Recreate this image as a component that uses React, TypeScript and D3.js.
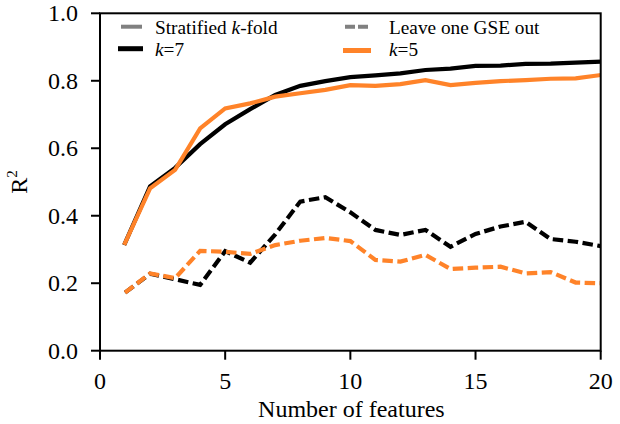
import React from "react";
import * as d3 from "d3";

const features = d3.range(1, 21);
const stratK7 = [0.319, 0.487, 0.542, 0.612, 0.671, 0.716, 0.758, 0.785, 0.799, 0.811, 0.816, 0.822, 0.832, 0.836, 0.844, 0.845, 0.850, 0.851, 0.854, 0.857];
const stratK5 = [0.319, 0.481, 0.536, 0.659, 0.718, 0.733, 0.753, 0.763, 0.773, 0.787, 0.785, 0.790, 0.802, 0.787, 0.794, 0.799, 0.802, 0.806, 0.807, 0.817];
const logoK7 = [0.172, 0.228, 0.212, 0.195, 0.295, 0.261, 0.345, 0.442, 0.455, 0.41, 0.358, 0.343, 0.358, 0.308, 0.346, 0.368, 0.382, 0.331, 0.323, 0.310];
const logoK5 = [0.172, 0.229, 0.215, 0.296, 0.293, 0.287, 0.313, 0.326, 0.334, 0.325, 0.269, 0.264, 0.284, 0.242, 0.246, 0.249, 0.229, 0.233, 0.202, 0.200];
const xTicks = [0, 5, 10, 15, 20];
const yTicks = [0, 0.2, 0.4, 0.6, 0.8, 1.0];

const W = 620;
const H = 424;
const L = 100, R = 600.7, T = 13.3, B = 350.7;
const FONT = "Liberation Serif, Tinos, Times New Roman, DejaVu Serif, serif";
const BLACK = "#000000";
const ORANGE = "#ff8329";
const LEG = 19.3;

export default function App() {
  const x = d3.scaleLinear().domain([0, 20]).range([L, R]);
  const y = d3.scaleLinear().domain([0, 1]).range([B, T]);
  const line = d3
    .line<number>()
    .x((_, i) => x(features[i]))
    .y((d) => y(d));

  const series = [
    { data: logoK7, color: BLACK, dash: "10.5,4.5" },
    { data: logoK5, color: ORANGE, dash: "10.5,4.5" },
    { data: stratK7, color: BLACK, dash: null },
    { data: stratK5, color: ORANGE, dash: null },
  ];

  const ts = { fontFamily: FONT } as React.CSSProperties;

  return (
    <svg
      width={W}
      height={H}
      style={{ position: "absolute", left: 0, top: 0, background: "#fff", fontFamily: FONT }}
    >
      <rect x={0} y={0} width={W} height={H} fill="#fff" />
      <defs>
        <clipPath id="plot">
          <rect x={L} y={T} width={R - L} height={B - T} />
        </clipPath>
      </defs>
      <g clipPath="url(#plot)">
        {series.map((s, i) => (
          <path
            key={i}
            d={line(s.data) || ""}
            fill="none"
            stroke={s.color}
            strokeWidth={4.2}
            strokeDasharray={s.dash || undefined}
            strokeLinejoin="miter"
            strokeLinecap={s.dash ? "butt" : "square"}
          />
        ))}
      </g>
      {/* spines */}
      <rect x={L} y={T} width={R - L} height={B - T} fill="none" stroke="#000" strokeWidth={2} />
      {/* y ticks */}
      {yTicks.map((t) => (
        <g key={"y" + t}>
          <line x1={L - 9} x2={L} y1={y(t)} y2={y(t)} stroke="#000" strokeWidth={2} />
          <text x={L - 22} y={y(t) + 8} textAnchor="end" fontSize={24} style={ts}>
            {t.toFixed(1)}
          </text>
        </g>
      ))}
      {/* x ticks */}
      {xTicks.map((t) => (
        <g key={"x" + t}>
          <line x1={x(t)} x2={x(t)} y1={B} y2={B + 9} stroke="#000" strokeWidth={2} />
          <text x={x(t)} y={389} textAnchor="middle" fontSize={24} style={ts}>
            {t}
          </text>
        </g>
      ))}
      {/* axis labels */}
      <text x={(L + R) / 2 + 1} y={417} textAnchor="middle" fontSize={24} style={ts}>
        Number of features
      </text>
      <text transform={`translate(27, ${(T + B) / 2}) rotate(-90)`} textAnchor="middle" fontSize={24} style={ts}>
        R<tspan fontSize={15} dy={-10}>2</tspan>
      </text>
      {/* legend */}
      <line x1={121} x2={142} y1={26.7} y2={26.7} stroke="#808080" strokeWidth={4} />
      <text x={155} y={34} fontSize={LEG} style={ts}>
        Stratified <tspan fontStyle="italic">k</tspan>-fold
      </text>
      <line x1={118} x2={143} y1={48.7} y2={48.7} stroke={BLACK} strokeWidth={5} />
      <text x={155} y={56} fontSize={LEG} style={ts}>
        <tspan fontStyle="italic">k</tspan>=7
      </text>
      <line x1={345} x2={368} y1={26.7} y2={26.7} stroke="#808080" strokeWidth={4} strokeDasharray="10,3" />
      <text x={389} y={34} fontSize={LEG} style={ts}>
        Leave one GSE out
      </text>
      <line x1={343} x2={371} y1={50.5} y2={50.5} stroke={ORANGE} strokeWidth={5} />
      <text x={389} y={56} fontSize={LEG} style={ts}>
        <tspan fontStyle="italic">k</tspan>=5
      </text>
    </svg>
  );
}
